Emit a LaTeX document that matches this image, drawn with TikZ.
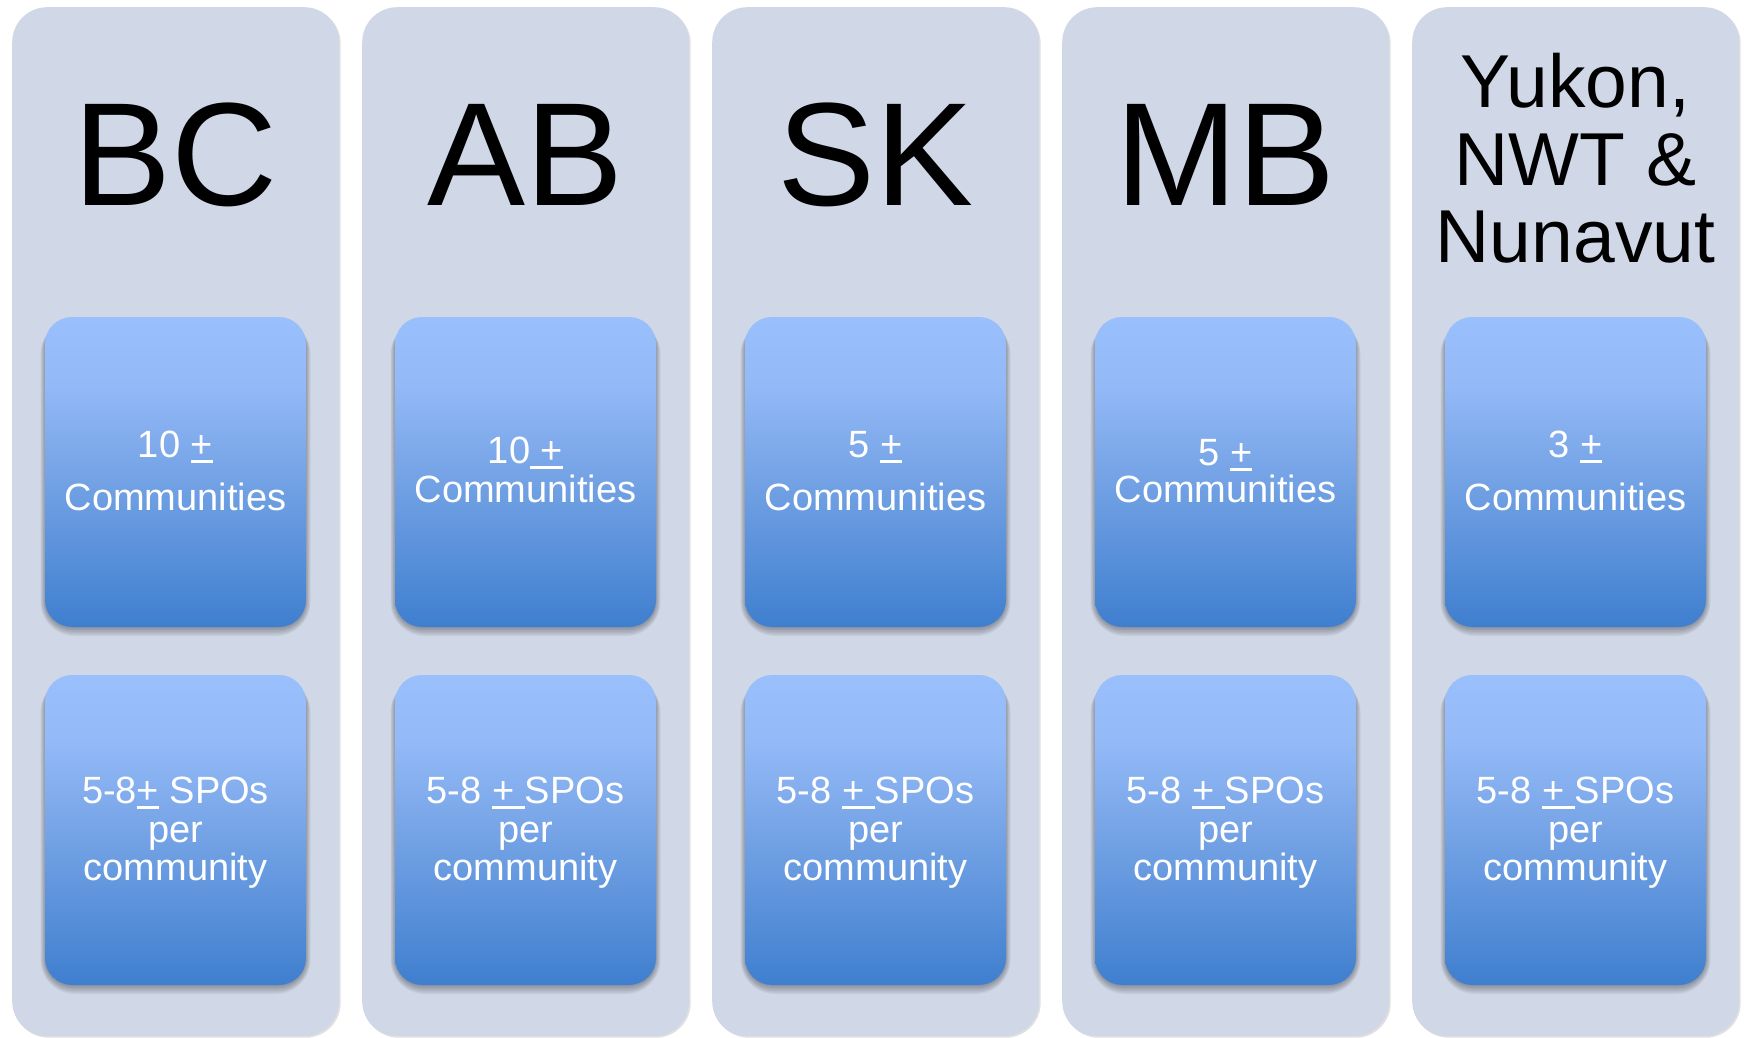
\documentclass[tikz,border=0pt]{standalone}
\usepackage{fontspec}
\setmainfont{Liberation Sans}
\usetikzlibrary{shadows}
\definecolor{colbg}{HTML}{D0D7E6}
\definecolor{gtop}{HTML}{99BFFC}
\definecolor{gtopb}{HTML}{93B9F7}
\definecolor{gmid}{HTML}{76A4E6}
\definecolor{gbot}{HTML}{3F7FCF}
\pgfdeclareverticalshading{boxgrad}{100bp}{color(0bp)=(gbot); color(25bp)=(gbot); color(50bp)=(gmid); color(64bp)=(gtopb); color(75bp)=(gtop); color(100bp)=(gtop)}
\newcommand\myul[1]{\setbox0\hbox{#1}\rlap{\rule[-5.5pt]{\wd0}{2.6pt}}\box0\relax}
\begin{document}
\begin{tikzpicture}[x=1pt,y=-1pt,
  column/.style={fill=colbg, rounded corners=35pt, minimum width=327pt, minimum height=1029pt, anchor=north west, inner sep=0pt,
    drop shadow={shadow xshift=1.5pt, shadow yshift=-1.5pt, opacity=0.12, fill=black}},
  card/.style={shade, shading=boxgrad, rounded corners=27pt, minimum width=261pt, minimum height=310pt, inner sep=0pt},
  softshadow/.style={fill=black, opacity=0.055},
  ttl/.style={font=\fontsize{147}{150}\selectfont, anchor=base, inner sep=0pt},
  ttls/.style={font=\fontsize{75}{77}\selectfont, anchor=base, inner sep=0pt},
  txt/.style={font=\fontsize{38}{40}\selectfont, text=white, anchor=base, inner sep=0pt}]
\useasboundingbox (0,0) rectangle (1746,1037);
\foreach \i/\x in {1/12,2/362,3/712,4/1062,5/1412}{
  \node[column] (col\i) at (\x,7) {};
}
% soft shadows under the cards
\foreach \x in {175.5,525.5,875.5,1225.5,1575.5}{
  \foreach \cy in {472,830}{
    \foreach \d in {0,1.5,3,4.5,6,7.5}{
      \fill[softshadow, rounded corners=27pt+\d pt]
        (\x-130.5-\d*0.6,\cy-155+3) rectangle (\x+130.5+\d*0.6,\cy+155+1.5+\d);
    }
  }
}
\foreach \i/\x in {1/175.5,2/525.5,3/875.5,4/1225.5,5/1575.5}{
  \node[card] (top\i) at (\x,472) {};
  \node[card] (bot\i) at (\x,830) {};
}
% titles
\node[ttl] (t1) at (175.5,205) {BC};
\node[ttl] (t2) at (525.5,205) {AB};
\node[ttl] (t3) at (875.5,205) {SK};
\node[ttl] (t4) at (1225.5,205) {MB};
\node[ttls] (t5a) at (1575.5,107) {Yukon,};
\node[ttls] (t5b) at (1575.5,185) {NWT \&};
\node[ttls] (t5c) at (1575.5,262) {Nunavut};
% community counts
\node[txt] (c1a) at (175.5,457) {10 \myul{+}};
\node[txt] (c1b) at (175.5,510) {Communities};
\node[txt] (c2a) at (525.5,463) {10\myul{ +}};
\node[txt] (c2b) at (525.5,502) {Communities};
\node[txt] (c3a) at (875.5,457) {5 \myul{+}};
\node[txt] (c3b) at (875.5,510) {Communities};
\node[txt] (c4a) at (1225.5,465) {5 \myul{+}};
\node[txt] (c4b) at (1225.5,502) {Communities};
\node[txt] (c5a) at (1575.5,457) {3 \myul{+}};
\node[txt] (c5b) at (1575.5,510) {Communities};
% SPOs
\node[txt] (s1a) at (175.5,803) {5-8\myul{+} SPOs};
\foreach \i/\x in {2/525.5,3/875.5,4/1225.5,5/1575.5}{
  \node[txt] (s\i a) at (\x,803) {5-8 \myul{+ }SPOs};
}
\foreach \i/\x in {1/175.5,2/525.5,3/875.5,4/1225.5,5/1575.5}{
  \node[txt] (s\i b) at (\x,842) {per};
  \node[txt] (s\i c) at (\x,880) {community};
}
\end{tikzpicture}
\end{document}
